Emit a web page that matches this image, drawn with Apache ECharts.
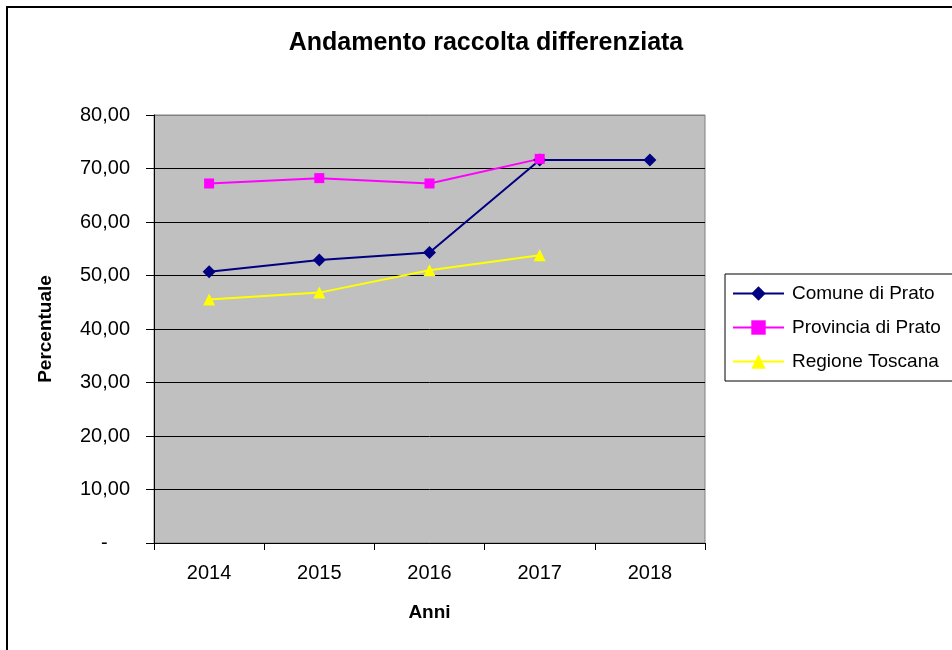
<!DOCTYPE html>
<html>
<head>
<meta charset="utf-8">
<script src="https://cdn.jsdelivr.net/npm/echarts@6/dist/echarts.min.js"></script>
<style>
    html, body { margin: 0; padding: 0; background: #fff; }
    #chart { width: 952px; height: 650px; }
</style>
</head>
<body>
<div id="chart"></div>
<script>
// anni e percentuali
var years = ['2014', '2015', '2016', '2017', '2018'];
var comune = [50.7, 52.9, 54.3, 71.6, 71.6];
var provincia = [67.2, 68.2, 67.2, 71.8, null];
var regione = [45.5, 46.8, 51.0, 53.8, null];
var yTicks = [0, 10, 20, 30, 40, 50, 60, 70, 80];

var font = "'Liberation Sans', Arial, sans-serif";

var myChart = echarts.init(document.getElementById('chart'));

// griglia nera, ultima riga (80) grigia come il bordo
var gridColors = yTicks.map(function (v) { return v === 80 ? '#808080' : '#000000'; });

var option = {
    backgroundColor: '#ffffff',
    animation: false,
    graphic: [{
        type: 'rect',
        shape: { x: 7, y: 7, width: 1000, height: 700 },
        style: { fill: 'none', stroke: '#000', lineWidth: 2 },
        silent: true
    }],
    title: {
        text: 'Andamento raccolta differenziata',
        left: 486,
        top: 31,
        padding: 0,
        textAlign: 'center',
        textStyle: { fontFamily: font, fontSize: 25, fontWeight: 'bold', color: '#000' }
    },
    legend: {
        left: 725,
        top: 274,
        orient: 'vertical',
        itemWidth: 51,
        itemHeight: 18,
        itemGap: 15,
        padding: [10, 20, 10, 7],
        borderColor: '#000',
        borderWidth: 1,
        textStyle: { fontFamily: font, fontSize: 19, color: '#000', padding: [0, 0, 0, 3] },
        data: ['Comune di Prato', 'Provincia di Prato', 'Regione Toscana']
    },
    grid: {
        left: 154,
        right: 247,
        top: 115,
        bottom: 107,
        show: true,
        backgroundColor: '#c0c0c0',
        borderColor: '#808080',
        borderWidth: 1
    },
    xAxis: {
        type: 'category',
        data: years,
        boundaryGap: true,
        name: 'Anni',
        nameLocation: 'middle',
        nameGap: 60,
        nameTextStyle: { fontFamily: font, fontSize: 19, fontWeight: 'bold', color: '#000' },
        axisLine: { lineStyle: { color: '#000', width: 1 } },
        axisTick: { show: true, length: 7, lineStyle: { color: '#000' } },
        axisLabel: { fontFamily: font, fontSize: 20, color: '#000', margin: 20 }
    },
    yAxis: {
        type: 'value',
        min: 0,
        max: 80,
        interval: 10,
        name: 'Percentuale',
        nameLocation: 'middle',
        nameGap: 99,
        nameTextStyle: { fontFamily: font, fontSize: 19, fontWeight: 'bold', color: '#000' },
        axisLine: { show: true, lineStyle: { color: '#000', width: 1 } },
        axisTick: { show: true, length: 8, lineStyle: { color: '#000' } },
        splitLine: { show: true, lineStyle: { color: gridColors, width: 1 } },
        axisLabel: {
            fontFamily: font,
            fontSize: 20,
            color: '#000',
            margin: 24,
            formatter: function (v) {
                if (v === 0) return '-    ';
                return v.toFixed(2).replace('.', ',');
            }
        }
    },
    series: [
        {
            name: 'Comune di Prato',
            type: 'line',
            data: comune,
            symbol: 'diamond',
            symbolSize: 13,
            itemStyle: { color: '#000080' },
            lineStyle: { color: '#000080', width: 2 }
        },
        {
            name: 'Provincia di Prato',
            type: 'line',
            data: provincia,
            symbol: 'rect',
            symbolSize: 10,
            itemStyle: { color: '#ff00ff' },
            lineStyle: { color: '#ff00ff', width: 2 }
        },
        {
            name: 'Regione Toscana',
            type: 'line',
            data: regione,
            symbol: 'triangle',
            symbolSize: 12,
            itemStyle: { color: '#ffff00' },
            lineStyle: { color: '#ffff00', width: 2 }
        }
    ]
};

myChart.setOption(option);
window.addEventListener('resize', function () {
    myChart.resize();
});
</script>
</body>
</html>
